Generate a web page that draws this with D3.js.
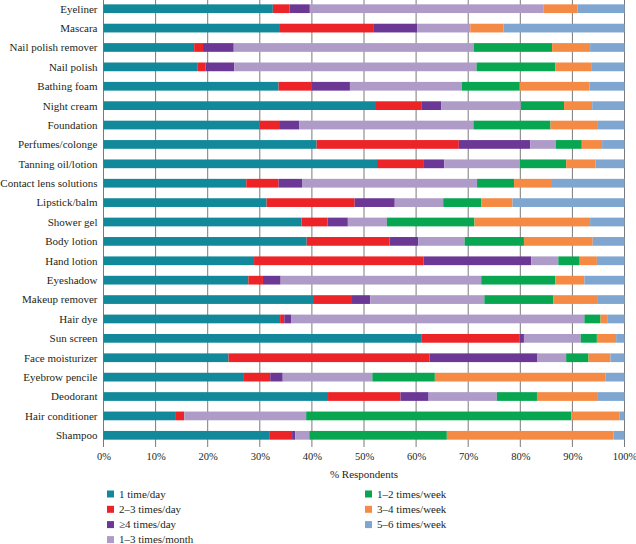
<!DOCTYPE html>
<html>
<head>
<meta charset="utf-8">
<script src="https://cdn.jsdelivr.net/npm/d3@7"></script>
<style>
  html, body { margin: 0; padding: 0; background: #fff; }
  svg { display: block; }
  text { font-family: "Liberation Serif", "DejaVu Serif", serif; fill: #231f20; }
</style>
</head>
<body>
<svg id="chart" width="636" height="544"></svg>
<script>
const categories = ["Eyeliner","Mascara","Nail polish remover","Nail polish","Bathing foam","Night cream","Foundation","Perfumes/colonge","Tanning oil/lotion","Contact lens solutions","Lipstick/balm","Shower gel","Body lotion","Hand lotion","Eyeshadow","Makeup remover","Hair dye","Sun screen","Face moisturizer","Eyebrow pencile","Deodorant","Hair conditioner","Shampoo"];

const seriesNames = ["1 time/day","2\u20133 times/day","\u22654 times/day","1\u20133 times/month","1\u20132 times/week","3\u20134 times/week","5\u20136 times/week"];

const oneDay      = [32.5,33.7,17.4,18.1,33.6,52.3,29.9,40.9,52.5,27.4,31.3,38.0,39.0,28.9,27.8,40.4,33.9,61.1,24.0,26.8,43.1,13.9,31.8];
const twoThreeDay = [3.2,18.2,1.7,1.5,6.4,8.8,3.8,27.3,9.0,6.2,16.9,5.0,15.9,32.5,2.8,7.3,0.8,18.8,38.6,5.2,13.9,1.6,4.4];
const fourDay     = [3.9,8.3,5.9,5.5,7.3,3.7,3.9,13.7,3.9,4.5,7.7,3.9,5.5,20.7,3.4,3.5,1.3,0.8,20.7,2.4,5.4,0,0.6];
const oneThreeMonth=[44.9,10.2,46.1,46.5,21.5,15.3,33.4,4.9,14.5,33.6,9.3,7.5,8.9,5.2,38.5,21.9,56.3,10.9,5.5,17.2,13.1,23.4,2.7];
const oneTwoWeek  = [0,0,15.0,15.1,11.1,8.3,14.8,5.0,8.9,7.1,7.3,16.8,11.4,4.1,14.2,13.2,3.1,3.1,4.3,12.0,7.7,50.9,26.4];
const threeFourWeek=[6.5,6.4,7.3,6.9,13.4,5.4,9.1,3.9,5.6,7.1,6.0,22.2,13.2,3.3,5.6,8.6,1.4,3.7,4.2,32.8,11.7,9.2,32.0];
const fiveSixWeek = [9.0,23.2,6.6,6.4,6.7,6.2,5.1,4.3,5.6,14.1,21.5,6.6,6.1,5.3,7.7,5.1,3.2,1.6,2.7,3.6,5.1,1.0,2.1];

const colors = ["#12899a","#ec2327","#6c3896","#ae9bc8","#08a651","#f58a45","#7ea6d0"];
const tickValues = [0,10,20,30,40,50,60,70,80,90,100];
const xTitle = "% Respondents";

const seriesArrays = [oneDay,twoThreeDay,fourDay,oneThreeMonth,oneTwoWeek,threeFourWeek,fiveSixWeek];
const rows = categories.map((c,i) => {
  const r = {cat: c};
  seriesNames.forEach((s,j) => r[s] = seriesArrays[j][i]);
  const tot = d3.sum(seriesNames, s => r[s]);
  seriesNames.forEach(s => r[s] = r[s] * 100 / tot);
  return r;
});

const svg = d3.select("#chart");
const x = d3.scaleLinear().domain([0,100]).range([103.5,624.5]);
const y = d3.scaleBand().domain(categories).range([-1,445]).paddingInner(0.55).paddingOuter(0.275);

svg.append("g").selectAll("line").data(tickValues).join("line")
  .attr("x1", d => x(d)).attr("x2", d => x(d))
  .attr("y1", 0).attr("y2", 447)
  .attr("stroke", "#7a7a7a").attr("stroke-width", 1);

const stacked = d3.stack().keys(seriesNames)(rows);

svg.append("g").selectAll("g").data(stacked).join("g")
  .attr("fill", (d,i) => colors[i])
  .selectAll("rect").data(d => d).join("rect")
  .attr("x", d => x(d[0]))
  .attr("width", d => Math.max(0, x(d[1]) - x(d[0])))
  .attr("y", d => y(d.data.cat))
  .attr("height", y.bandwidth());

svg.append("g").selectAll("text").data(categories).join("text")
  .attr("x", 97.5)
  .attr("y", d => y(d) + y.bandwidth()/2)
  .attr("dy", "0.35em")
  .attr("text-anchor", "end")
  .attr("font-size", 11)
  .text(d => d);

const xAxis = d3.axisBottom(x).tickValues(tickValues).tickFormat(d => d + "%").tickSize(0).tickPadding(0);
const gx = svg.append("g").attr("transform", "translate(0,453)").call(xAxis);
gx.select(".domain").remove();
gx.selectAll("text").attr("font-size", 10.5).attr("font-family", "Liberation Serif, serif").attr("fill", "#231f20");

svg.append("text")
  .attr("x", (x(0)+x(100))/2).attr("y", 474).attr("dy","0.35em")
  .attr("text-anchor","middle").attr("font-size", 11)
  .text(xTitle);

const legendPos = [[107,494],[107,509.3],[107,524.6],[107,539.6],[365,494],[365,509.3],[365,524.6]];
const lg = svg.append("g");
seriesNames.forEach((s,i) => {
  const [lx,ly] = legendPos[i];
  lg.append("rect").attr("x", lx).attr("y", ly-3.5).attr("width", 7).attr("height", 7).attr("fill", colors[i]);
  lg.append("text").attr("x", lx+12).attr("y", ly).attr("dy","0.35em").attr("font-size", 11).text(s);
});
</script>
</body>
</html>
